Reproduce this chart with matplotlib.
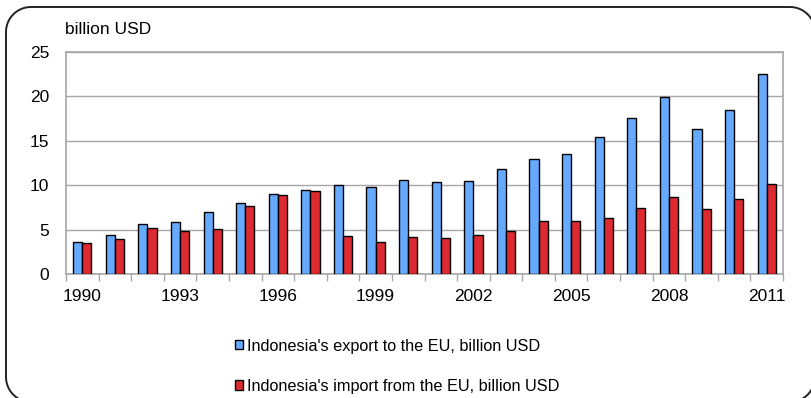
import numpy as np
import matplotlib.pyplot as plt
from matplotlib.patches import Polygon, Patch

plt.rcParams['font.family'] = ['Liberation Sans', 'DejaVu Sans']

years = list(range(1990, 2012))
exports = [3.64, 4.39, 5.58, 5.88, 6.97, 8.02, 9.03, 9.45, 10.01, 9.82, 10.64,
           10.38, 10.49, 11.88, 12.93, 13.49, 15.40, 17.54, 19.94, 16.34, 18.44, 22.49]
imports = [3.52, 3.94, 5.21, 4.87, 5.10, 7.65, 8.88, 9.37, 4.31, 3.56, 4.20,
           4.09, 4.39, 4.80, 6.00, 5.96, 6.26, 7.38, 8.70, 7.31, 8.47, 10.19]
label_years = [1990, 1993, 1996, 1999, 2002, 2005, 2008, 2011]
export_label = "Indonesia's export to the EU, billion USD"
import_label = "Indonesia's import from the EU, billion USD"

BLUE = '#66aaff'
RED = '#dd2a30'
GRID = '#a6a6a6'

W, H = 811, 398
fig = plt.figure(figsize=(W / 100, H / 100), dpi=100)


def rounded_rect(left, top, right, bottom, r, n=24):
    # corner arcs in pixel coordinates measured from the top-left of the figure
    pts = []
    corners = [(right - r, top + r, -90, 0), (right - r, bottom - r, 0, 90),
               (left + r, bottom - r, 90, 180), (left + r, top + r, 180, 270)]
    for cx, cy, a0, a1 in corners:
        t = np.radians(np.linspace(a0, a1, n))
        pts.extend(zip(cx + r * np.cos(t), cy + r * np.sin(t)))
    pts = np.array(pts)
    return np.column_stack([pts[:, 0] / 100, (H - pts[:, 1]) / 100])


# outer frame, running slightly off the right and bottom edges
frame = Polygon(rounded_rect(6, 7, 815, 402, 25), closed=True, fill=False,
                edgecolor='#222222', linewidth=1.4, transform=fig.dpi_scale_trans)
fig.add_artist(frame)

ax = fig.add_axes([66 / W, 1 - 274 / H, (783 - 66) / W, (274 - 52) / H])
ax.set_facecolor('none')

x = np.arange(len(years))
w = 0.28
ax.bar(x - w / 2, exports, w, color=BLUE, edgecolor='black', linewidth=1.0, zorder=3)
ax.bar(x + w / 2, imports, w, color=RED, edgecolor='black', linewidth=1.0, zorder=3)

ax.set_xlim(-0.5, len(years) - 0.5)
ax.set_ylim(0, 25)
ax.set_yticks([0, 5, 10, 15, 20, 25])
ax.yaxis.grid(True, color=GRID, linewidth=1.0, zorder=0)
ax.set_axisbelow(True)

ax.set_xticks([years.index(y) for y in label_years])
ax.set_xticklabels([str(y) for y in label_years])
ax.set_xticks(np.arange(-0.5, len(years)), minor=True)
ax.tick_params(axis='x', which='major', length=0, pad=11, labelsize=12.5, colors='black')
ax.tick_params(axis='x', which='minor', length=5, width=1, color=GRID)
ax.tick_params(axis='y', length=0, pad=12, labelsize=12.5)

for side in ['left', 'right', 'top', 'bottom']:
    ax.spines[side].set_color(GRID)
    ax.spines[side].set_linewidth(1.2)

fig.text(65 / W, 1 - 30 / H, 'billion USD', fontsize=12.5, ha='left', va='center')

handles = [Patch(facecolor=BLUE, edgecolor='black', linewidth=1.0),
           Patch(facecolor=RED, edgecolor='black', linewidth=1.0)]
fig.legend(handles, [export_label, import_label], loc='upper left',
           bbox_to_anchor=(228 / W, 1 - 332 / H), frameon=False, fontsize=11.7,
           handlelength=0.5, handleheight=0.5, handletextpad=0.25,
           labelspacing=1.55, borderaxespad=0)

fig.savefig('out.png', dpi=100)
